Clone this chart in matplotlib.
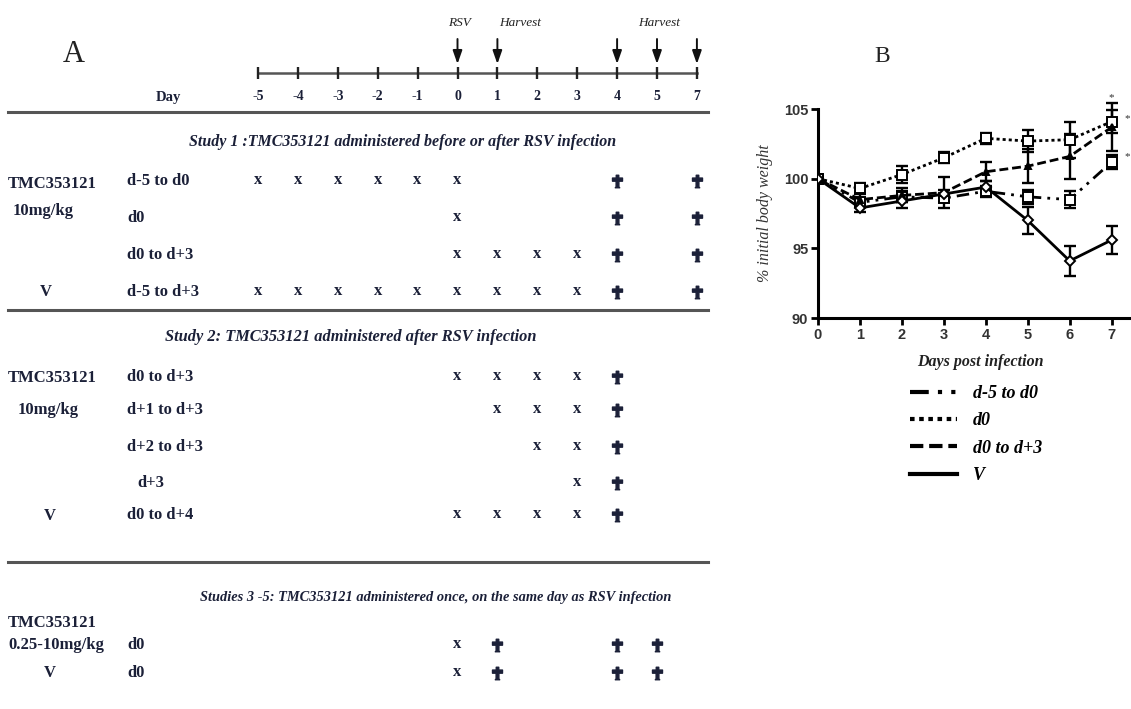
import matplotlib
matplotlib.use('Agg')
import matplotlib.pyplot as plt
from matplotlib.lines import Line2D
from matplotlib.path import Path
from matplotlib.font_manager import FontProperties
import numpy as np

# ---------------- Panel A data ----------------
timeline_days = [-5, -4, -3, -2, -1, 0, 1, 2, 3, 4, 5, 7]
arrow_days = [0, 1, 4, 5, 7]
arrow_label_days = [0, 1, 5]
arrow_label_texts = ['RSV', 'Harvest', 'Harvest']

study1_title = 'Study 1 :TMC353121 administered before or after RSV infection'
study1_groups = ['TMC353121', '10mg/kg', 'V']
study1_regimens = ['d-5 to d0', 'd0', 'd0 to d+3', 'd-5 to d+3']
study1_dose_days = [[-5, -4, -3, -2, -1, 0], [0], [0, 1, 2, 3],
                    [-5, -4, -3, -2, -1, 0, 1, 2, 3]]
study1_harvest_days = [[4, 7], [4, 7], [4, 7], [4, 7]]

study2_title = 'Study 2: TMC353121 administered after RSV infection'
study2_groups = ['TMC353121', '10mg/kg', 'V']
study2_regimens = ['d0 to d+3', 'd+1 to d+3', 'd+2 to d+3', 'd+3', 'd0 to d+4']
study2_dose_days = [[0, 1, 2, 3], [1, 2, 3], [2, 3], [3], [0, 1, 2, 3]]
study2_harvest_days = [[4], [4], [4], [4], [4]]

study3_title = 'Studies 3 -5: TMC353121 administered once, on the same day as RSV infection'
study3_groups = ['TMC353121', '0.25-10mg/kg', 'V']
study3_regimens = ['d0', 'd0']
study3_dose_days = [[0], [0]]
study3_harvest_days = [[1, 4, 5], [1, 4, 5]]

# ---------------- Panel B data ----------------
days = [0, 1, 2, 3, 4, 5, 6, 7]
series_labels = ['d-5 to d0', 'd0', 'd0 to d+3', 'V']
w_d5_d0 = [100, 98.3, 98.7, 98.6, 99.1, 98.7, 98.5, 101.2]
e_d5_d0 = [0, 0.3, 0.4, 0.3, 0.4, 0.5, 0.6, 0.5]
w_d0 = [100, 99.3, 100.3, 101.5, 102.9, 102.7, 102.8, 104.1]
e_d0 = [0, 0.4, 0.6, 0.4, 0.4, 0.8, 1.3, 0.8]
w_d0_d3 = [100, 98.5, 98.8, 99.0, 100.5, 100.9, 101.6, 103.7]
e_d0_d3 = [0, 0.5, 0.5, 1.1, 0.7, 1.2, 1.6, 1.7]
w_v = [100, 97.9, 98.4, 98.9, 99.4, 97.0, 94.1, 95.6]
e_v = [0, 0.3, 0.5, 0.3, 0.4, 0.95, 1.1, 1.0]
yticks_b = [90, 95, 100, 105]

# ---------------- figure ----------------
plt.rcParams['font.family'] = ['Liberation Serif', 'DejaVu Serif']
W, H = 1131, 709
fig = plt.figure(figsize=(W / 100, H / 100), dpi=100)
NAVY = '#1b2038'

# ---- Panel A: schedule, x = column index of timeline day, y = layout rows (px)
axA = fig.add_axes([0, 0, 1, 1])
axA.set_axis_off()
COL_PX0, COL_DX = 258, 39.9
axA.set_xlim(-COL_PX0 / COL_DX, (W - COL_PX0) / COL_DX)
axA.set_ylim(H, 0)


def px(x):
    return (x - COL_PX0) / COL_DX


def col(d):
    return timeline_days.index(d)


cols = np.arange(len(timeline_days))
axA.text(px(74), 55, 'A', fontsize=22, ha='center', va='center', color='#222')
axA.plot([cols[0], cols[-1]], [73, 73], color='#555', lw=1.8)
axA.vlines(cols, 67, 79, color='#222', lw=1.7)
for c, d in zip(cols, timeline_days):
    axA.text(c, 97, str(d), ha='center', va='center', fontsize=10,
             fontweight='bold', color=NAVY)
axA.text(px(168), 97, 'Day', ha='center', va='center', fontsize=10.5,
         fontweight='bold', color=NAVY)
for d in arrow_days:
    axA.annotate('', xy=(col(d), 64), xytext=(col(d), 39),
                 arrowprops=dict(arrowstyle='-|>,head_width=0.28,head_length=0.8',
                                 color='#111', lw=1.4, shrinkA=0, shrinkB=0))
for d, t in zip(arrow_label_days, arrow_label_texts):
    if t == 'Harvest' and d == 1:
        axA.text(col(d) + 0.05, 23, t, ha='left', va='center', fontsize=9.5,
                 fontstyle='italic', color='#222')
    else:
        axA.text(col(d) + 0.05, 23, t, ha='center', va='center', fontsize=9.5,
                 fontstyle='italic', color='#222')

for yr in [112, 310, 562]:
    axA.plot([px(8), px(708)], [yr, yr], color='#555', lw=2.2)

cross_verts = [(-0.2, 1), (0.2, 1), (0.2, 0.55), (0.8, 0.55), (0.8, 0.05),
               (0.22, 0.05), (0.22, -0.85), (0.35, -1), (-0.35, -1), (-0.22, -0.85),
               (-0.22, 0.05), (-0.8, 0.05), (-0.8, 0.55), (-0.2, 0.55), (-0.2, 1)]
cross = Path(cross_verts, closed=True)

tfont = dict(fontsize=12, fontweight='bold', color=NAVY, va='center')


def title(x, y, s, size):
    axA.text(px(x), y, s, fontsize=size, fontweight='bold', fontstyle='italic',
             color=NAVY, ha='center', va='center')


def draw_rows(row_y, regimens, dose, harvest, reg_x):
    for y, r, dd, hh, rx in zip(row_y, regimens, dose, harvest, reg_x):
        axA.text(px(rx), y, r, ha='left', **tfont)
        for d in dd:
            axA.text(col(d), y - 1, 'x', ha='center', fontsize=12,
                     fontweight='bold', color=NAVY, va='center')
        axA.plot([col(h) for h in hh], [y] * len(hh), ls='none', marker=cross,
                 ms=9, color=NAVY)


# Study 1
title(403, 142, study1_title, 11.5)
s1_y = [181, 218, 255, 292]
draw_rows(s1_y, study1_regimens, study1_dose_days, study1_harvest_days,
          [127, 127, 127, 127])
axA.text(px(8), 184, study1_groups[0], ha='left', **tfont)
axA.text(px(13), 211, study1_groups[1], ha='left', **tfont)
axA.text(px(46), 292, study1_groups[2], ha='center', **tfont)

# Study 2
title(351, 337, study2_title, 11.8)
s2_y = [377, 410, 447, 483, 515]
draw_rows(s2_y, study2_regimens, study2_dose_days, study2_harvest_days,
          [127, 127, 127, 137, 127])
axA.text(px(8), 378, study2_groups[0], ha='left', **tfont)
axA.text(px(18), 410, study2_groups[1], ha='left', **tfont)
axA.text(px(50), 516, study2_groups[2], ha='center', **tfont)

# Studies 3-5
title(436, 598, study3_title, 10.4)
s3_y = [645, 673]
draw_rows(s3_y, study3_regimens, study3_dose_days, study3_harvest_days,
          [127, 127])
axA.text(px(8), 623, study3_groups[0], ha='left', **tfont)
axA.text(px(8), 645, study3_groups[1], ha='left', **tfont)
axA.text(px(50), 673, study3_groups[2], ha='center', **tfont)

# ---- Panel B: body weight
X0, XPD = 818, 41.95
Y90, YPU = 318, 13.93
top_px = 92
axB = fig.add_axes([X0 / W, 1 - Y90 / H, (W - X0) / W, (Y90 - top_px) / H])
axB.set_xlim(0, (W - X0) / XPD)
axB.set_ylim(90, 90 + (Y90 - top_px) / YPU)
axB.patch.set_alpha(0)
for s in ['top', 'right']:
    axB.spines[s].set_visible(False)
axB.spines['left'].set_bounds(90, 105)
axB.spines['left'].set_linewidth(2.2)
axB.spines['bottom'].set_linewidth(2.2)
axB.set_yticks(yticks_b)
axB.set_xticks(days)
axB.tick_params(length=5, width=2, direction='out', pad=2)
for lab in axB.get_xticklabels() + axB.get_yticklabels():
    lab.set_fontfamily('Liberation Sans')
    lab.set_fontweight('bold')
    lab.set_fontsize(10.5)
    lab.set_color('#333')

series_w = [w_d5_d0, w_d0, w_d0_d3, w_v]
series_e = [e_d5_d0, e_d0, e_d0_d3, e_v]
dash_styles = [(4.5, 2.2, 1, 2.2, 1, 2.2), (1.1, 1.1), (3.2, 1.4), None]
markers = ['s', 's', '^', 'D']
msizes = [7, 7, 5, 5]
mfcs = ['white', 'white', 'black', 'white']
for w, e, ds, m, ms, mfc in zip(series_w, series_e, dash_styles, markers, msizes, mfcs):
    axB.errorbar(days, w, yerr=e, fmt='none', ecolor='k', elinewidth=1.7,
                 capsize=4.5, capthick=1.7, zorder=3)
    kw = dict(color='k', lw=2, marker=m, ms=ms, mfc=mfc, mec='k', mew=1.4,
              zorder=4)
    if ds is None:
        axB.plot(days, w, ls='-', **kw)
    else:
        axB.plot(days, w, dashes=ds, **kw)

axB.text(7, 105.85, '*', ha='center', va='center', fontsize=8, color='#333')
axB.text(7.38, 104.3, '*', ha='center', va='center', fontsize=8, color='#333',
         clip_on=False)
axB.text(7.38, 101.6, '*', ha='center', va='center', fontsize=8, color='#333',
         clip_on=False)

axB.set_ylabel('% initial body weight', fontstyle='italic', fontsize=11.5,
               color='#333')
axB.yaxis.set_label_coords(-(X0 - 765) / (W - X0), (Y90 - 213) / (Y90 - top_px))
axB.set_xlabel('Days post infection', fontstyle='italic', fontweight='bold',
               fontsize=11.5, color='#222')
axB.xaxis.set_label_coords((980 - X0) / (W - X0), -(362 - Y90) / (Y90 - top_px))
axB.xaxis.label.set_va('center')
axB.yaxis.label.set_va('center')

fig.text(882 / W, 1 - 56 / H, 'B', fontsize=17, ha='center', va='center',
         color='#222')

handles = []
for ds in dash_styles:
    if ds is None:
        handles.append(Line2D([], [], color='k', lw=3, ls='-'))
    else:
        handles.append(Line2D([], [], color='k', lw=3, dashes=ds))
fig.legend(handles, series_labels, loc='upper left',
           bbox_to_anchor=(910 / W, 1 - 385 / H), frameon=False,
           prop=FontProperties(family='Liberation Serif', style='italic',
                               weight='bold', size=13),
           handlelength=2.6, handletextpad=0.9, labelspacing=0.57,
           borderaxespad=0, borderpad=0)

fig.savefig('out.png', dpi=100)
